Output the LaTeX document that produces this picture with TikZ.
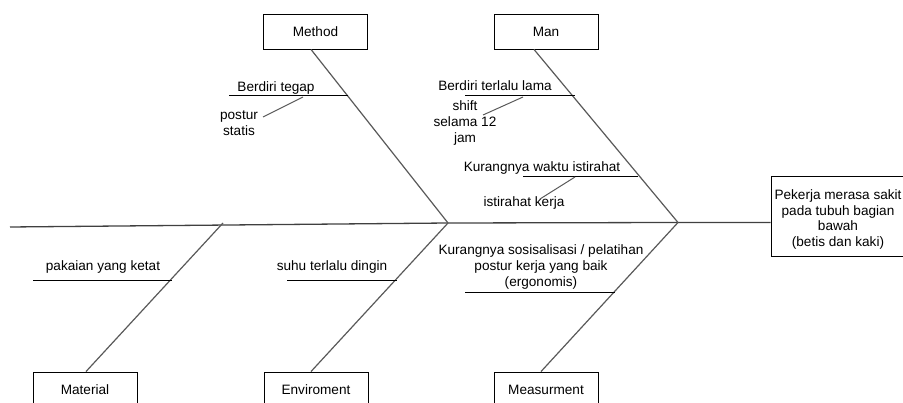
\documentclass[tikz,border=0pt]{standalone}
\usepackage{fontspec}
\setmainfont{Liberation Sans}
\usetikzlibrary{positioning, calc}
\tikzset{
  cat/.style={draw, line width=0.9pt, minimum width=104pt, minimum height=35pt, inner sep=0pt, align=center, font=\fontsize{13.6}{15.8}\selectfont},
  effect/.style={cat, minimum width=134pt, minimum height=80pt},
  txt/.style={inner sep=0pt, align=center, font=\fontsize{13.6}{15.8}\selectfont},
  spine/.style={draw=black!75, line width=1.3pt},
  bone/.style={draw=black!65, line width=1.2pt},
  cause/.style={draw=black, line width=0.9pt},
  sub/.style={draw=black!65, line width=1pt}
}

\begin{document}
\begin{tikzpicture}[x=1pt, y=-1pt]
\useasboundingbox (0,0) rectangle (903,403);
% categories
\node[cat] (mth) at (315.5,31.5) {Method};
\node[cat] (man) at (546,31.5) {Man};
\node[cat] (mat) at (85,389.5) {Material};
\node[cat] (env) at (316,389.5) {Enviroment};
\node[cat] (msr) at (546,389.5) {Measurment};
\node[effect] (eff) at (838,216) {\rule{0pt}{17pt}Pekerja merasa sakit\\pada tubuh bagian\\bawah\\(betis dan kaki)};
% spine
\coordinate (tail) at (10,227);
\coordinate (h1) at (448,223);
\coordinate (h2) at (678,222.5);
\draw[spine] (tail) -- (h1) -- (h2) -- (h2 -| eff.west);
% bones
\draw[bone] ([xshift=-4.5pt]mth.south) -- (h1);
\draw[bone] ([xshift=-12pt]man.south) -- (h2);
\draw[bone] ([xshift=1pt]mat.north) -- (223,223);
\draw[bone] ([xshift=-5pt]env.north) -- (h1);
\draw[bone] ([xshift=-5pt]msr.north) -- (h2);
% causes
\node[txt] (tgp) at (276,88) {Berdiri tegap};
\draw[cause] (229,95.7) coordinate (tgpa) -- (348,95.7) coordinate (tgpb);
\node[txt] (pst) at (239,123) {postur\\statis};
\draw[sub] (303,97) -- (263,117);
\node[txt] (lma) at (495,86) {Berdiri terlalu lama};
\draw[cause] (465,95) coordinate (lmaa) -- (575,95) coordinate (lmab);
\node[txt] (sft) at (465,123) {shift\\selama 12\\jam};
\draw[sub] (523,97) -- (483,115);
\node[txt] (wkt) at (542,168) {Kurangnya waktu istirahat};
\draw[cause] (523,176) coordinate (wkta) -- (638,176) coordinate (wktb);
\node[txt] (krj) at (524,203) {istirahat kerja};
\draw[sub] (575,177) -- (540,199);
\node[txt] (pkn) at (103,267) {pakaian yang ketat};
\draw[cause] (33,280) coordinate (pkna) -- (172,280) coordinate (pknb);
\node[txt] (shu) at (332,267) {suhu terlalu dingin};
\draw[cause] (287,280) coordinate (shua) -- (397,280) coordinate (shub);
\node[txt] (sos) at (541,267) {Kurangnya sosisalisasi / pelatihan\\postur kerja yang baik\\(ergonomis)};
\draw[cause] (465,292) coordinate (sosa) -- (615,292) coordinate (sosb);
\end{tikzpicture}
\end{document}
